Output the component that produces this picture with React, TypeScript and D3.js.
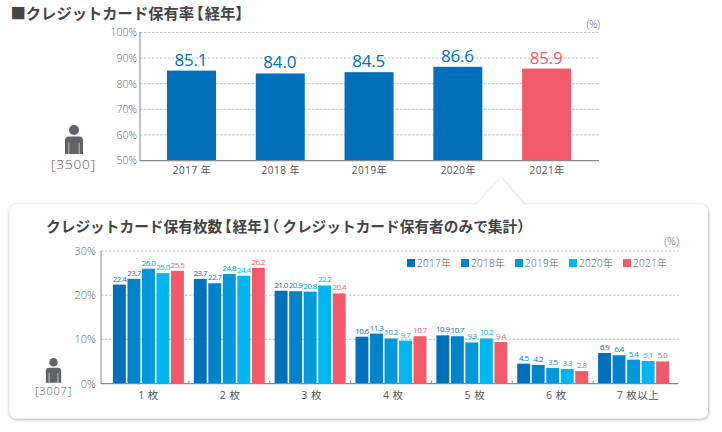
import React from "react";
import * as d3 from "d3";

const years = ["2017年", "2018年", "2019年", "2020年", "2021年"];
const yearAxisLabels = ["2017 年", "2018 年", "2019年", "2020年", "2021年"];
const ownershipRate = [85.1, 84.0, 84.5, 86.6, 85.9];
const rateTicks = [50, 60, 70, 80, 90, 100];
const cardCounts = ["1 枚", "2 枚", "3 枚", "4 枚", "5 枚", "6 枚", "7 枚以上"];
const series2017 = [22.4, 23.7, 21.0, 10.6, 10.9, 4.5, 6.9];
const series2018 = [23.7, 22.7, 20.9, 11.3, 10.7, 4.2, 6.4];
const series2019 = [26.0, 24.8, 20.8, 10.2, 9.3, 3.5, 5.4];
const series2020 = [25.0, 24.4, 22.2, 9.7, 10.2, 3.3, 5.1];
const series2021 = [25.5, 26.2, 20.4, 10.7, 9.4, 2.8, 5.0];
const allSeries = [series2017, series2018, series2019, series2020, series2021];
const countTicks = [0, 10, 20, 30];
const colors = ["#0070bb", "#0083ca", "#0097db", "#00b6f0", "#f25a6a"];
const rateColors = ["#0070bb", "#0070bb", "#0070bb", "#0070bb", "#f25a6a"];

const LATIN = "'Open Sans', 'Noto Sans CJK JP', sans-serif";
const JP = "'Noto Sans CJK JP', sans-serif";
const HALF = { fontFeatureSettings: "'halt'" };

function Person({ cx, top, s }: { cx: number; top: number; s: number }) {
  const w = 9 * s;
  const bodyTop = top + 11.5 * s;
  const bodyBottom = top + 29 * s;
  return (
    <g fill="#5f6368">
      <circle cx={cx} cy={top + 5 * s} r={5 * s} />
      <path
        d={`M${cx - w},${bodyBottom}V${bodyTop + 4 * s}Q${cx - w},${bodyTop} ${cx - w + 4 * s},${bodyTop}H${cx + w - 4 * s}Q${cx + w},${bodyTop} ${cx + w},${bodyTop + 4 * s}V${bodyBottom}Z`}
      />
      <path d={`M${cx - 5.2 * s},${bodyTop + 6 * s}V${bodyBottom}M${cx + 5.2 * s},${bodyTop + 6 * s}V${bodyBottom}`} stroke="#fff" strokeWidth={0.6} />
    </g>
  );
}

export default function App() {
  const xTop = d3.scaleBand<number>().domain(d3.range(years.length)).range([147.1, 591]).paddingInner(0.448).paddingOuter(0.224);
  const yTop = d3.scaleLinear().domain([50, 100]).range([160.5, 32.5]);

  const xGroup = d3.scaleBand<number>().domain(d3.range(cardCounts.length)).range([108, 674]).paddingInner(0.122).paddingOuter(0.061);
  const xInner = d3.scaleBand<number>().domain(d3.range(years.length)).range([0, xGroup.bandwidth()]).paddingInner(0.11);
  const xLabel = d3.scalePoint<number>().domain(d3.range(cardCounts.length)).range([148.5, 638]);
  const yBot = d3.scaleLinear().domain([0, 30]).range([383.5, 251]);

  const panel =
    "M17,204.5H477L500,179Q501,177.5 502,179L524,204.5H700Q708,204.5 708,212.5V410.5Q708,418.5 700,418.5H17Q9.5,418.5 9.5,410.5V212.5Q9.5,204.5 17,204.5Z";

  return (
    <svg width={722} height={432} viewBox="0 0 722 432" style={{ position: "absolute", left: 0, top: 0, background: "#fff" }}>
      <defs>
        <filter id="sh" x="-5%" y="-10%" width="110%" height="120%">
          <feDropShadow dx="0.3" dy="0.8" stdDeviation="1.5" floodColor="#000" floodOpacity="0.42" />
        </filter>
      </defs>

      <text x={10.5} y={18.5} fontFamily={JP} fontWeight={700} fontSize={15.3} fill="#444">
        ■クレジットカード保有率
        <tspan dx={2} style={HALF}>【</tspan>
        <tspan dx={1}>経年</tspan>
        <tspan style={HALF}>】</tspan>
      </text>
      <text x={600} y={28} textAnchor="end" fontFamily={LATIN} fontWeight={300} fontSize={10} fill="#666">(%)</text>

      {rateTicks.map((t) => (
        <g key={t}>
          {t > 50 && <line x1={140} x2={599} y1={yTop(t)} y2={yTop(t)} stroke="#b0b0b0" strokeWidth={0.8} strokeDasharray="2.5 1.5" />}
          <text x={137} y={yTop(t) + 3.8} textAnchor="end" fontFamily={LATIN} fontWeight={300} fontSize={10.5} fill="#666">{t}%</text>
        </g>
      ))}
      {ownershipRate.map((v, i) => (
        <g key={years[i]}>
          <rect x={xTop(i)} y={yTop(v)} width={xTop.bandwidth()} height={yTop(50) - yTop(v)} fill={rateColors[i]} />
          <text x={xTop(i)! + xTop.bandwidth() / 2 - 0.5} y={yTop(v) - 5} textAnchor="middle" fontFamily={LATIN} fontSize={17} letterSpacing={-0.2} fill={rateColors[i]}>{v.toFixed(1)}</text>
          <text x={xTop(i)! + xTop.bandwidth() / 2 + 0.5} y={174} textAnchor="middle" fontFamily={LATIN} fontSize={10} letterSpacing={0.5} fill="#555">{yearAxisLabels[i]}</text>
        </g>
      ))}
      <line x1={140} x2={140} y1={32} y2={161} stroke="#888" strokeWidth={1} />
      <line x1={140} x2={599} y1={160.7} y2={160.7} stroke="#888" strokeWidth={1.3} />

      <Person cx={74} top={125} s={1} />
      <text x={73.5} y={169} textAnchor="middle" fontFamily={LATIN} fontWeight={300} fontSize={13.5} letterSpacing={0.9} fill="#555">[3500]</text>

      <path d={panel} fill="#fff" filter="url(#sh)" />

      <text x={46} y={231.5} fontFamily={JP} fontWeight={700} fontSize={14.7} fill="#444">
        クレジットカード保有枚数
        <tspan dx={2} style={HALF}>【</tspan>
        <tspan dx={1}>経年</tspan>
        <tspan dx={1} style={HALF}>】</tspan>
        <tspan dx={1.5} style={HALF}>（</tspan>
        <tspan dx={3}>クレジットカード保有者のみで集計</tspan>
        <tspan style={HALF}>）</tspan>
      </text>
      <text x={679} y={245} textAnchor="end" fontFamily={LATIN} fontWeight={300} fontSize={11} fill="#666">(%)</text>

      {countTicks.map((t) => (
        <g key={t}>
          {t > 0 && <line x1={101} x2={678.5} y1={yBot(t)} y2={yBot(t)} stroke="#b0b0b0" strokeWidth={0.8} strokeDasharray="2.5 1.5" />}
          <text x={96} y={yBot(t) + 4} textAnchor="end" fontFamily={LATIN} fontWeight={300} fontSize={11} fill="#666">{t}%</text>
        </g>
      ))}

      {years.map((y, i) => (
        <g key={y}>
          <rect x={407 + i * 54} y={259} width={8} height={8} fill={colors[i]} />
          <text x={417 + i * 54} y={267} fontFamily={LATIN} fontWeight={300} fontSize={10} letterSpacing={0.3} fill="#555">{y}</text>
        </g>
      ))}

      {cardCounts.map((c, g) => (
        <g key={c}>
          <g transform={`translate(${xGroup(g)},0)`}>
            {allSeries.map((s, i) => (
              <g key={i}>
                <rect x={xInner(i)} y={yBot(s[g])} width={xInner.bandwidth()} height={yBot(0) - yBot(s[g])} fill={colors[i]} />
                <text x={xInner(i)! + xInner.bandwidth() / 2} y={yBot(s[g]) - 3} textAnchor="middle" fontFamily={LATIN} fontSize={8} letterSpacing={-0.6} fill={colors[i]}>{s[g].toFixed(1)}</text>
              </g>
            ))}
            {g > 0 && <line x1={-xGroup.step() * 0.061} x2={-xGroup.step() * 0.061} y1={380.5} y2={383.5} stroke="#888" strokeWidth={1} />}
          </g>
          <text x={xLabel(g)} y={399} textAnchor="middle" fontFamily={LATIN} fontSize={10.5} letterSpacing={0.5} fill="#555">{c}</text>
        </g>
      ))}
      <line x1={101} x2={101} y1={251} y2={384} stroke="#888" strokeWidth={1} />
      <line x1={101} x2={678.5} y1={383.6} y2={383.6} stroke="#888" strokeWidth={1.2} />

      <Person cx={53.5} top={358} s={0.85} />
      <text x={53.5} y={395} textAnchor="middle" fontFamily={LATIN} fontWeight={300} fontSize={11} letterSpacing={0.8} fill="#555">[3007]</text>
    </svg>
  );
}
